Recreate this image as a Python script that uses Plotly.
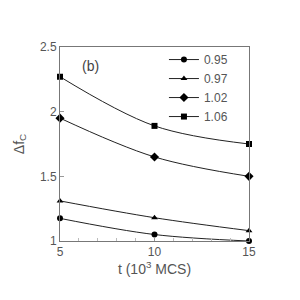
import plotly.graph_objects as go

t = [5, 10, 15]
series_names = ["0.95", "0.97", "1.02", "1.06"]
series_values = [
    [1.175, 1.05, 1.0],
    [1.31, 1.18, 1.08],
    [1.95, 1.65, 1.50],
    [2.27, 1.89, 1.75],
]
symbols = ["circle", "triangle-up", "diamond", "square"]
marker_sizes = [6, 6, 7, 6]
x_ticks = [5, 10, 15]
y_ticks = [1, 1.5, 2, 2.5]
y_tick_labels = ["1", "1.5", "2", "2.5"]

fig = go.Figure()
for name, vals, sym, ms in zip(series_names, series_values, symbols, marker_sizes):
    fig.add_trace(go.Scatter(
        x=t, y=vals, name=name, mode="lines+markers",
        line=dict(color="#222222", width=1, shape="spline"),
        marker=dict(symbol=sym, size=ms, color="black"),
        cliponaxis=False,
    ))

fig.add_annotation(x=6.6, y=2.35, text="(b)", showarrow=False,
                   font=dict(size=14, color="#444444"))

axis_common = dict(showgrid=False, zeroline=False, showline=True, linecolor="#777777",
                   linewidth=1, mirror=True, ticks="inside", tickcolor="#999999",
                   ticklen=4, tickfont=dict(size=12, color="#555555"))

fig.update_layout(
    width=300, height=300,
    margin=dict(l=60, r=51, t=47, b=59),
    plot_bgcolor="white", paper_bgcolor="white",
    font=dict(family="Liberation Sans, Arial, sans-serif", color="#555555"),
    showlegend=True,
    legend=dict(x=0.55, y=1.01, xanchor="left", yanchor="top",
                bgcolor="rgba(0,0,0,0)", font=dict(size=12, color="#555555"),
                itemwidth=30, tracegroupgap=0),
    xaxis=dict(range=[5, 15], tickvals=x_ticks, ticktext=[str(v) for v in x_ticks],
               minor=dict(dtick=1, ticks="inside", ticklen=3, tickcolor="#bbbbbb"),
               title=dict(text="t (10<sup>3</sup> MCS)", font=dict(size=14, color="#555555"), standoff=0),
               **axis_common),
    yaxis=dict(range=[1, 2.5], tickvals=y_ticks, ticktext=y_tick_labels,
               title=dict(text="Δf<sub>C</sub>", font=dict(size=14, color="#555555"), standoff=12),
               **axis_common),
)

fig.write_html("out.html", config={"displayModeBar": False},
               post_script="document.body.style.margin='0';")
